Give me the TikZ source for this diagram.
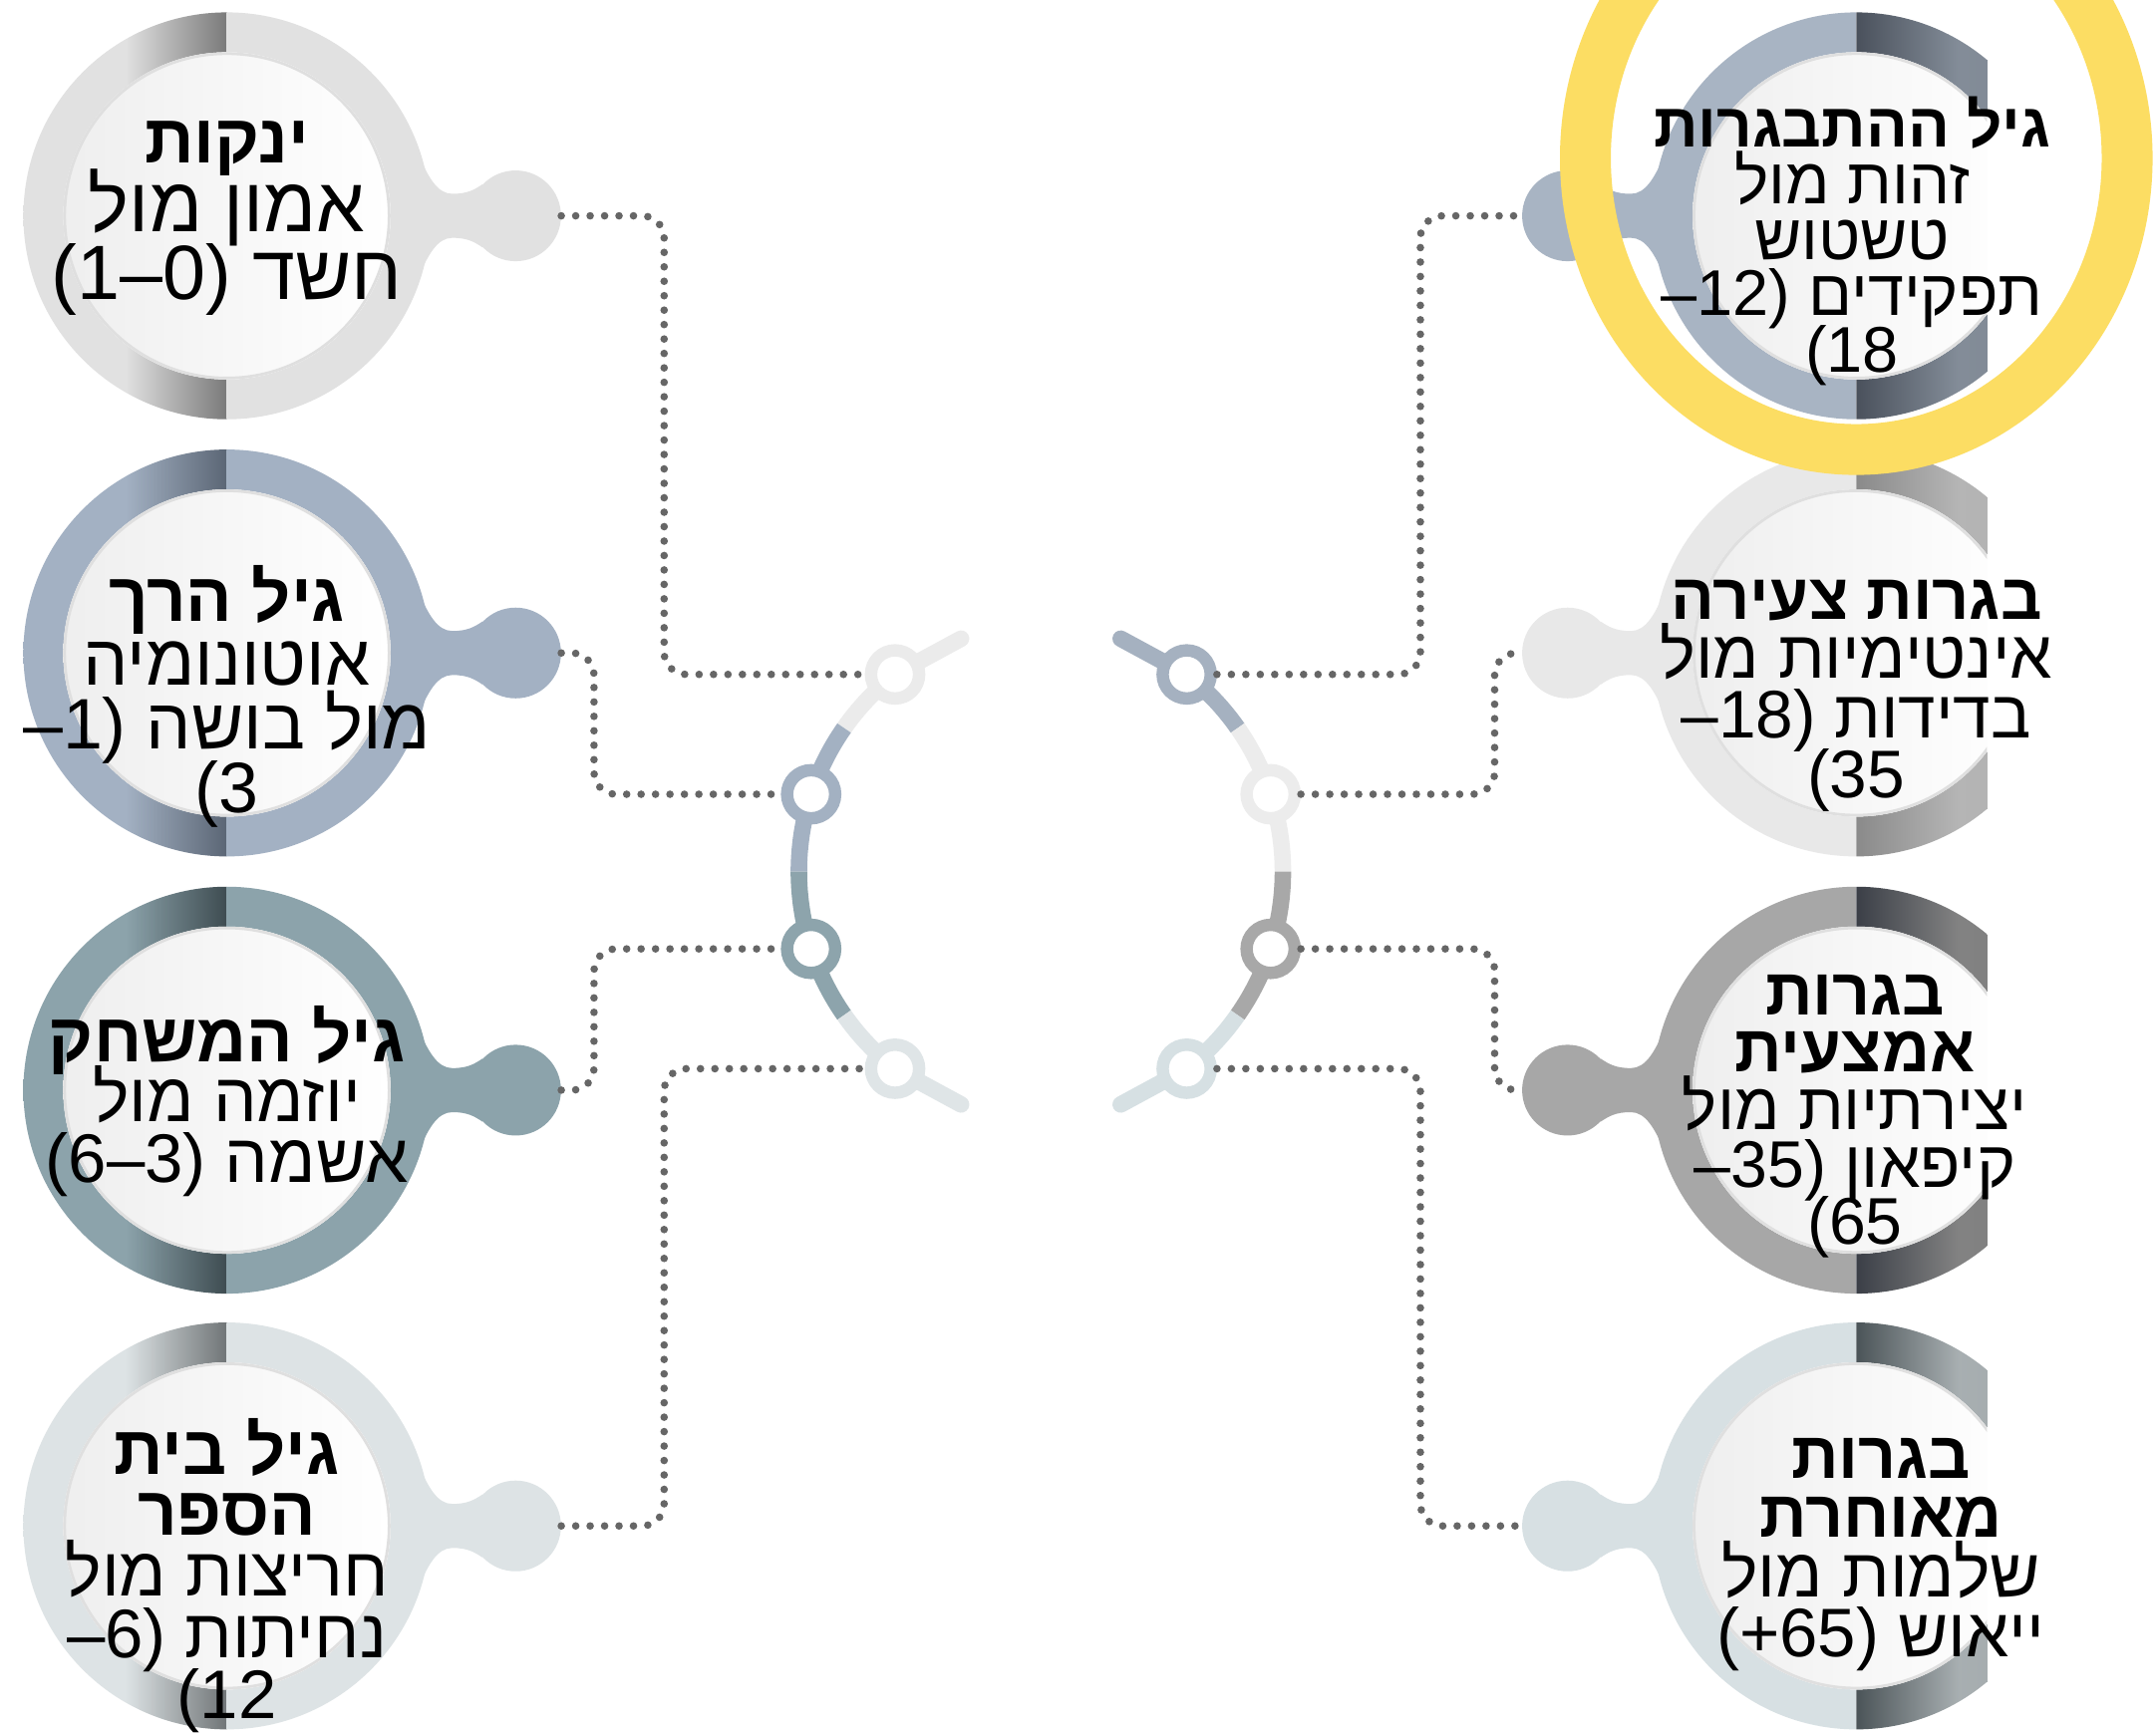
\documentclass[tikz,border=0pt]{standalone}
\usepackage{fontspec}
\setmainfont{Liberation Sans}
\newfontfamily\heb[Script=Hebrew]{Liberation Sans}
\newfontfamily\lat{Liberation Sans}
\TeXXeTstate=1
\usetikzlibrary{calc}

\definecolor{l1b}{HTML}{E1E1E1}\definecolor{l1d}{HTML}{7A7A7A}
\definecolor{l2b}{HTML}{A3B1C3}\definecolor{l2d}{HTML}{5B6675}
\definecolor{l3b}{HTML}{8CA3AB}\definecolor{l3d}{HTML}{3E4C51}
\definecolor{l4b}{HTML}{DDE3E5}\definecolor{l4d}{HTML}{707577}
\definecolor{r1b}{HTML}{A8B4C3}\definecolor{r1d}{HTML}{4A515C}
\definecolor{r2b}{HTML}{E8E8E8}\definecolor{r2d}{HTML}{8A8A8A}
\definecolor{r3b}{HTML}{A7A7A7}\definecolor{r3d}{HTML}{3B3F47}
\definecolor{r4b}{HTML}{D7E0E3}\definecolor{r4d}{HTML}{4B5458}
\definecolor{cl1}{HTML}{EBEBEB}\definecolor{cl2}{HTML}{A3B1C2}
\definecolor{cl3}{HTML}{8DA4AC}\definecolor{cl4}{HTML}{DFE5E7}
\definecolor{cr1}{HTML}{A5B1C0}\definecolor{cr2}{HTML}{ECECEC}
\definecolor{cr3}{HTML}{A8A8A8}\definecolor{cr4}{HTML}{D6E0E3}
\definecolor{dotc}{HTML}{666666}
\definecolor{yel}{HTML}{FCDD63}

\tikzset{
  knob/.style={circle, minimum size=66pt, inner sep=0pt},
  cnode/.style={circle, minimum size=35pt, inner sep=0pt, line width=9pt, fill=white, draw=#1},
  seg/.style={line width=12pt},
  stubline/.style={line width=12pt, line cap=round},
  dots/.style={draw=dotc, line width=5.5pt, line cap=round, dash pattern=on 0pt off 10.5pt, rounded corners=16pt}
}

% neck + knob; #1 cx, #2 cy, #3 xscale, #4 colour, #5 knob name
\newcommand\stagegeo[5]{%
  \begin{scope}[shift={(#1,#2)}, xscale=#3]
    \fill[#4] (-20:146) .. controls (146,-28) and (153,-16) .. (164,-16)
      .. controls (175,-16) and (180,-19) .. (186,-23) -- (186,23)
      .. controls (180,19) and (175,16) .. (164,16)
      .. controls (153,16) and (146,28) .. (20:146) -- cycle;
    \node[knob, fill=#4] (#5) at (210,0) {};
  \end{scope}}

% two half rings and the inner disc
\newcommand\halfrings[8]{%
  \begin{scope}[shift={(#1,#2)}]
    \shade[left color=#3, right color=#5, middle color=#4]
      (90:148) arc[start angle=90, end angle=270, radius=148]
      -- (270:119) arc[start angle=270, end angle=90, radius=119] -- cycle;
    \shade[left color=#6, right color=#8, middle color=#7]
      (-90:148) arc[start angle=-90, end angle=90, radius=148]
      -- (90:119) arc[start angle=90, end angle=-90, radius=119] -- cycle;
    \shade[left color=gray!13, right color=white] (0,0) circle (119);
    \draw[gray!25, line width=2pt] (0,0) circle (118);
  \end{scope}}

% one text block: #1 name, #2 x, #3 first baseline, #4 line pitch, #5 size, #6 lines
\newcommand\stagetext[6]{%
  \node[anchor=north, inner sep=0pt, align=center,
        font={\heb\fontsize{#5}{#4}\selectfont\lineskiplimit-300pt\lineskip0pt\relax}]
        (#1) at (#2,#3-60) {#6};}
\newcommand\num[1]{{\lat\beginL#1\endL}}
\newcommand\hd[1]{\bfseries\fontsize{#1}{#1}\selectfont}
\newcommand\tp{\rule{0pt}{60pt}}

\begin{document}
\begin{tikzpicture}[x=1pt, y=-1pt]
\useasboundingbox (0,0) rectangle (1568,1260);
\fill[white] (0,0) rectangle (1568,1260);

% ---------- left stages
\stagegeo{165}{157}{1}{l1b}{kL1}
\halfrings{165}{157}{l1b}{l1b}{l1d}{l1b}{l1b}{l1b}
\stagegeo{165}{475}{1}{l2b}{kL2}
\halfrings{165}{475}{l2b}{l2b}{l2d}{l2b}{l2b}{l2b}
\stagegeo{165}{793}{1}{l3b}{kL3}
\halfrings{165}{793}{l3b}{l3b}{l3d}{l3b}{l3b}{l3b}
\stagegeo{165}{1110}{1}{l4b}{kL4}
\halfrings{165}{1110}{l4b}{l4b}{l4d}{l4b}{l4b}{l4b}

% ---------- right stages (cut at the right)
\begin{scope}
\clip (0,0) rectangle (1445,1260);
\stagegeo{1350}{157}{-1}{r1b}{kR1}
\halfrings{1350}{157}{r1b}{r1b}{r1b}{r1d}{r1b!78!black}{r1b!75!black}
\stagegeo{1350}{475}{-1}{r2b}{kR2}
\halfrings{1350}{475}{r2b}{r2b}{r2b}{r2d}{r2b!78!black}{r2b!75!black}
\stagegeo{1350}{793}{-1}{r3b}{kR3}
\halfrings{1350}{793}{r3b}{r3b}{r3b}{r3d}{r3b!78!black}{r3b!75!black}
\stagegeo{1350}{1110}{-1}{r4b}{kR4}
\halfrings{1350}{1110}{r4b}{r4b}{r4b}{r4d}{r4b!78!black}{r4b!75!black}
\end{scope}

% ---------- centre arcs
\coordinate (CL) at (763,634);
\coordinate (CR) at (751,634);
\draw[stubline, cl1] ($(CL)+(232:182)$) -- ++(48,-26);
\draw[stubline, cl4] ($(CL)+(128:182)$) -- ++(48,26);
\draw[stubline, cr1] ($(CR)+(-52:182)$) -- ++(-48,-26);
\draw[stubline, cr4] ($(CR)+(52:182)$) -- ++(-48,26);
\draw[seg, cl1] ($(CL)+(232:182)$) arc[start angle=232, end angle=215, radius=182];
\draw[seg, cl2] ($(CL)+(215:182)$) arc[start angle=215, end angle=180, radius=182];
\draw[seg, cl3] ($(CL)+(180:182)$) arc[start angle=180, end angle=145, radius=182];
\draw[seg, cl4] ($(CL)+(145:182)$) arc[start angle=145, end angle=128, radius=182];
\draw[seg, cr1] ($(CR)+(-52:182)$) arc[start angle=-52, end angle=-35, radius=182];
\draw[seg, cr2] ($(CR)+(-35:182)$) arc[start angle=-35, end angle=0, radius=182];
\draw[seg, cr3] ($(CR)+(0:182)$) arc[start angle=0, end angle=35, radius=182];
\draw[seg, cr4] ($(CR)+(35:182)$) arc[start angle=35, end angle=52, radius=182];
\node[cnode=cl1] (cL1) at ($(CL)+(232:182)$) {};
\node[cnode=cl2] (cL2) at ($(CL)+(198:182)$) {};
\node[cnode=cl3] (cL3) at ($(CL)+(162:182)$) {};
\node[cnode=cl4] (cL4) at ($(CL)+(128:182)$) {};
\node[cnode=cr1] (cR1) at ($(CR)+(-52:182)$) {};
\node[cnode=cr2] (cR2) at ($(CR)+(-18:182)$) {};
\node[cnode=cr3] (cR3) at ($(CR)+(18:182)$) {};
\node[cnode=cr4] (cR4) at ($(CR)+(52:182)$) {};

% ---------- dotted connectors
\coordinate (xa) at (483,0);
\coordinate (xb) at (432,0);
\coordinate (xc) at (1033,0);
\coordinate (xd) at (1087,0);
\draw[dots] (kL1.east) -- (kL1.east -| xa) |- (cL1.west);
\draw[dots] (kL2.east) -- (kL2.east -| xb) |- (cL2.west);
\draw[dots] (kL3.east) -- (kL3.east -| xb) |- (cL3.west);
\draw[dots] (kL4.east) -- (kL4.east -| xa) |- (cL4.west);
\draw[dots] (cR1.east) -- (cR1.east -| xc) |- (kR1.west);
\draw[dots] (cR2.east) -- (cR2.east -| xd) |- (kR2.west);
\draw[dots] (cR3.east) -- (cR3.east -| xd) |- (kR3.west);
\draw[dots] (cR4.east) -- (cR4.east -| xc) |- (kR4.west);

% ---------- highlight ring
\draw[yel, line width=37pt] (1350,115) ellipse [x radius=197, y radius=212];

% ---------- texts
\stagetext{tL1}{165}{118}{50}{56}{\tp{\hd{50}\beginR ינקות\endR}\\
  \beginR אמון מול\endR\\
  \beginR חשד \num{(1–0)}\endR}

\stagetext{tL2}{165}{452}{46.3}{52}{\tp{\hd{50}\beginR גיל הרך\endR}\\
  \beginR אוטונומיה\endR\\
  \beginR מול בושה \num{–1)}\endR\\
  \num{(3}}

\stagetext{tL3}{165}{772}{44}{50}{\tp{\hd{50}\beginR גיל המשחק\endR}\\
  \beginR יוזמה מול\endR\\
  \beginR אשמה \num{(6–3)}\endR}

\stagetext{tL4}{165}{1072}{44.5}{50}{\tp{\hd{50}\beginR גיל בית\endR}\\
  {\hd{50}\beginR הספר\endR}\\
  \beginR חריצות מול\endR\\
  \beginR נחיתות \num{–6)}\endR\\
  \num{(12}}

\stagetext{tR1}{1347}{107}{40.8}{47}{\tp{\hd{45}\beginR גיל ההתבגרות\endR}\\
  \beginR זהות מול\endR\\
  \beginR טשטוש\endR\\
  \beginR תפקידים \num{–12)}\endR\\
  \num{(18}}

\stagetext{tR2}{1350}{450}{43.3}{49}{\tp{\hd{47}\beginR בגרות צעירה\endR}\\
  \beginR אינטימיות מול\endR\\
  \beginR בדידות \num{–18)}\endR\\
  \num{(35}}

\stagetext{tR3}{1349}{738}{41.8}{48}{\tp{\hd{48}\beginR בגרות\endR}\\
  {\hd{48}\beginR אמצעית\endR}\\
  \beginR יצירתיות מול\endR\\
  \beginR קיפאון \num{–35)}\endR\\
  \num{(65}}

\stagetext{tR4}{1368}{1075}{43.3}{50}{\tp{\hd{48}\beginR בגרות\endR}\\
  {\hd{48}\beginR מאוחרת\endR}\\
  \beginR שלמות מול\endR\\
  \beginR ייאוש \num{(+65)}\endR}
\end{tikzpicture}
\end{document}
